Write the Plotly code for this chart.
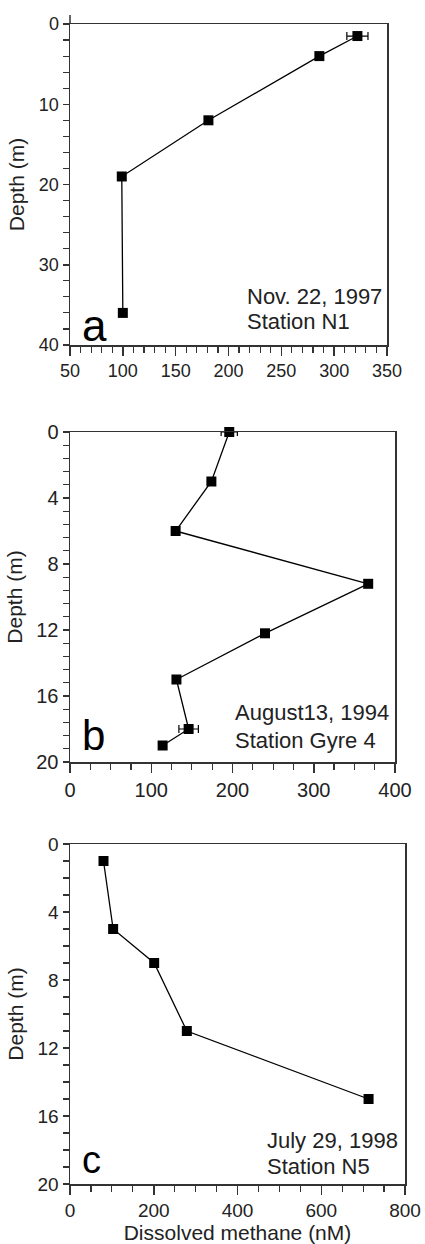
import plotly.graph_objects as go
from plotly.subplots import make_subplots

# Panel a: Nov. 22, 1997, Station N1
a_conc = [322, 286, 181, 99, 100]
a_depth = [1.5, 4, 12, 19, 36]
a_err = [10, 0, 0, 0, 0]

# Panel b: August 13, 1994, Station Gyre 4
b_conc = [196, 174, 130, 367, 240, 131, 146, 114]
b_depth = [0, 3, 6, 9.2, 12.2, 15, 18, 19]
b_err = [10, 0, 0, 0, 0, 0, 12, 0]

# Panel c: July 29, 1998, Station N5
c_conc = [80, 103, 201, 279, 713]
c_depth = [1, 5, 7, 11, 15]
c_err = [0, 0, 0, 0, 0]

W, H = 425, 1244
FONT = "Liberation Sans, Arial, sans-serif"
TXT = "#222222"
AX = "#333333"


def fx(px):
    return px / W


def fy(py):
    return 1 - py / H


fig = make_subplots(rows=3, cols=1)

panels = [
    dict(conc=a_conc, depth=a_depth, err=a_err,
         px=(70, 387), py=(24, 345), xr=[50, 350], xd=50, xm=10,
         yr=[40, 0], yd=10, ym=2, tickfs=18,
         letter="a", lx=80, ly=326, lfs=44,
         lines=["Nov. 22, 1997", "Station N1"], tx=245, ty=(296, 322)),
    dict(conc=b_conc, depth=b_depth, err=b_err,
         px=(70, 395), py=(432, 762), xr=[0, 400], xd=100, xm=25,
         yr=[20, 0], yd=4, ym=0.8, tickfs=20,
         letter="b", lx=80, ly=735, lfs=42,
         lines=["August13, 1994", "Station Gyre 4"], tx=233, ty=(712, 740)),
    dict(conc=c_conc, depth=c_depth, err=c_err,
         px=(70, 405), py=(844, 1184), xr=[0, 800], xd=200, xm=50,
         yr=[20, 0], yd=4, ym=1, tickfs=19,
         letter="c", lx=80, ly=1160, lfs=38,
         lines=["July 29, 1998", "Station N5"], tx=265, ty=(1140, 1166)),
]

for i, p in enumerate(panels):
    r = i + 1
    fig.add_trace(go.Scatter(
        x=p["conc"], y=p["depth"], mode="lines+markers",
        line=dict(color="black", width=1.3),
        marker=dict(symbol="square", size=10, color="black"),
        error_x=dict(type="data", array=p["err"], visible=True,
                     color="black", thickness=1.2, width=4),
        cliponaxis=False, showlegend=False, hoverinfo="skip"), row=r, col=1)
    xn = "xaxis" if r == 1 else f"xaxis{r}"
    yn = "yaxis" if r == 1 else f"yaxis{r}"
    fig.layout[xn].update(
        domain=[fx(p["px"][0]), fx(p["px"][1])], automargin=False,
        ticklabeloverflow="allow",
        range=p["xr"], dtick=p["xd"], tick0=0, showgrid=False, zeroline=False,
        showline=True, linecolor=AX, linewidth=1.5, mirror=True,
        ticks="outside", ticklen=9, tickwidth=1.5, tickcolor=AX,
        minor=dict(dtick=p["xm"], ticks="outside", ticklen=6, tickwidth=1.2, tickcolor=AX),
        tickfont=dict(family=FONT, size=p["tickfs"], color=TXT))
    fig.layout[yn].update(
        domain=[fy(p["py"][1]), fy(p["py"][0])], automargin=False,
        ticklabeloverflow="allow",
        range=p["yr"], dtick=p["yd"], tick0=0, showgrid=False, zeroline=False,
        showline=True, linecolor=AX, linewidth=1.5, mirror=True,
        ticks="outside", ticklen=6, tickwidth=1.5, tickcolor=AX,
        minor=dict(dtick=p["ym"], ticks="outside", ticklen=6, tickwidth=1.2, tickcolor=AX),
        tickfont=dict(family=FONT, size=p["tickfs"], color=TXT),
        title=dict(text="Depth (m)", font=dict(family=FONT, size=21, color=TXT), standoff=8))
    fig.add_annotation(xref="paper", yref="paper", x=fx(p["lx"]), y=fy(p["ly"]),
                       text=p["letter"], showarrow=False, xanchor="left", yanchor="middle",
                       font=dict(family=FONT, size=p["lfs"], color="black"))
    for t, yy in zip(p["lines"], p["ty"]):
        fig.add_annotation(xref="paper", yref="paper", x=fx(p["tx"]), y=fy(yy),
                           text=t, showarrow=False, xanchor="left", yanchor="middle",
                           font=dict(family=FONT, size=22, color=TXT))

fig.layout.xaxis3.title = dict(text="Dissolved methane (nM)", standoff=3,
                               font=dict(family=FONT, size=21, color=TXT))

# left axis line of panel a extends slightly above the frame
fig.add_shape(type="line", xref="paper", yref="paper",
              x0=fx(70), x1=fx(70), y0=fy(24), y1=fy(15),
              line=dict(color=AX, width=1.5))

fig.update_layout(width=W, height=H, autosize=False,
                  margin=dict(l=0, r=0, t=0, b=0),
                  paper_bgcolor="white", plot_bgcolor="white",
                  hovermode=False,
                  font=dict(family=FONT, color=TXT))

fig.write_html("out.html", config={"displayModeBar": False, "staticPlot": True},
               post_script="document.body.style.margin='0px';document.body.style.overflow='hidden';")
